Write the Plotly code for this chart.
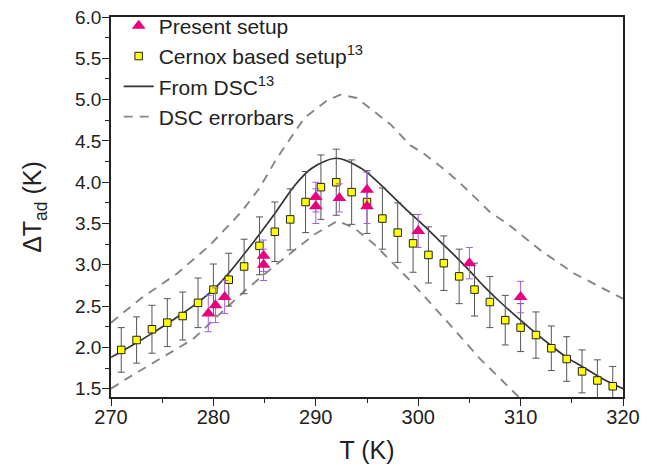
import plotly.graph_objects as go

# Cernox based setup (yellow squares)
cernox_T = [271, 272.5, 274, 275.5, 277, 278.5, 280, 281.5, 283, 284.5, 286, 287.5,
            289, 290.5, 292, 293.5, 295, 296.5, 298, 299.5, 301, 302.5, 304, 305.5,
            307, 308.5, 310, 311.5, 313, 314.5, 316, 317.5, 319]
cernox_dT = [1.97, 2.09, 2.22, 2.30, 2.38, 2.54, 2.70, 2.82, 2.98, 3.23, 3.40, 3.55,
             3.76, 3.94, 4.00, 3.88, 3.76, 3.56, 3.39, 3.26, 3.12, 3.02, 2.86, 2.70,
             2.55, 2.33, 2.24, 2.15, 1.99, 1.86, 1.71, 1.60, 1.53]
cernox_err = [0.27, 0.28, 0.29, 0.29, 0.29, 0.30, 0.31, 0.32, 0.33, 0.35, 0.36, 0.37,
              0.37, 0.39, 0.40, 0.39, 0.38, 0.37, 0.36, 0.35, 0.34, 0.33, 0.33, 0.32,
              0.31, 0.30, 0.29, 0.28, 0.27, 0.27, 0.26, 0.25, 0.24]

# Present setup (magenta triangles)
present_T = [279.5, 280.2, 281.1, 284.9, 284.9, 290.0, 290.0, 292.3, 295.0, 295.0, 300.0, 305.0, 310.0]
present_dT = [2.41, 2.51, 2.61, 3.11, 3.00, 3.82, 3.71, 3.81, 3.91, 3.71, 3.41, 3.02, 2.61]
present_err = [0.22, 0.21, 0.20, 0.19, 0.19, 0.18, 0.21, 0.17, 0.21, 0.21, 0.20, 0.19, 0.19]

# From DSC (solid line)
dsc_T = [270, 272, 274, 276, 278, 280, 281.5, 283, 284.5, 286, 287, 288, 289.5, 291, 292,
         293, 294, 295, 297, 299, 300.5, 302, 303.5, 305, 306.5, 308, 310, 311.5, 313,
         314.5, 316, 318, 320]
dsc_dT = [1.88, 2.02, 2.17, 2.33, 2.50, 2.70, 2.90, 3.13, 3.37, 3.62, 3.80, 3.97, 4.16, 4.26, 4.29,
          4.26, 4.20, 4.12, 3.89, 3.65, 3.48, 3.30, 3.12, 2.93, 2.73, 2.55, 2.33, 2.17, 2.02,
          1.88, 1.77, 1.62, 1.50]

# DSC errorbars (dashed)
upper_T = [270, 273, 276.4, 279.6, 282.8, 284.5, 286.2, 288.9, 291, 292.4, 294, 296, 297.3,
           299.2, 300.5, 302.4, 304, 305.6, 307, 308.8, 312, 315.3, 320]
upper_dT = [2.30, 2.60, 2.89, 3.23, 3.65, 3.93, 4.29, 4.78, 4.98, 5.06, 5.02, 4.82, 4.70,
            4.45, 4.35, 4.17, 4.00, 3.81, 3.64, 3.49, 3.17, 2.89, 2.59]
lower_T = [270, 271.5, 278, 283.1, 286.6, 289.9, 292.1, 293.7, 295.7, 299.2, 302.7, 305.9, 309.5, 312]
lower_dT = [1.50, 1.62, 2.10, 2.69, 3.05, 3.37, 3.53, 3.45, 3.25, 2.81, 2.33, 1.88, 1.44, 1.15]

font = "Liberation Sans, Arial, sans-serif"
ink = "#222222"

fig = go.Figure()

# dashed DSC error envelope
fig.add_trace(go.Scatter(x=lower_T, y=lower_dT, mode="lines", showlegend=False,
                         legendgroup="err", line=dict(color="#858585", width=1.9, dash="9px,7px")))
fig.add_trace(go.Scatter(x=upper_T, y=upper_dT, mode="lines", name="DSC errorbars",
                         legendgroup="err", legendrank=4,
                         line=dict(color="#858585", width=1.9, dash="9px,7px")))
# DSC curve
fig.add_trace(go.Scatter(x=dsc_T, y=dsc_dT, mode="lines", name="From DSC<sup>13</sup>",
                         legendgroup="dsc", legendrank=3,
                         line=dict(color="#333333", width=1.7, shape="spline")))
# Cernox points
fig.add_trace(go.Scatter(x=cernox_T, y=cernox_dT, mode="markers", name="Cernox based setup<sup>13</sup>",
                         legendgroup="cernox", legendrank=2,
                         marker=dict(symbol="square", size=7.5, color="#ffff00",
                                     line=dict(color=ink, width=1)),
                         error_y=dict(type="data", array=cernox_err, color="#555555",
                                      thickness=1, width=3.5)))
# present setup points
fig.add_trace(go.Scatter(x=present_T, y=present_dT, mode="markers", name="Present setup",
                         legendgroup="present", legendrank=1,
                         marker=dict(symbol="triangle-up", size=12, color="#e8007f",
                                     line=dict(width=0)),
                         error_y=dict(type="data", array=present_err, color="#a45ee0",
                                      thickness=1, width=3.5)))

fig.update_xaxes(range=[270, 320], dtick=10, tick0=270, showgrid=False, zeroline=False,
                 showline=True, linecolor=ink, linewidth=1.5, mirror=True, automargin=False,
                 ticks="outside", ticklen=7, tickcolor=ink, ticklabelstandoff=-6,
                 ticklabeloverflow="allow",
                 minor=dict(ticks="outside", ticklen=4, dtick=5, tickcolor=ink),
                 tickfont=dict(size=20, color=ink, family=font),
                 title=dict(text="T (K)", font=dict(size=25, color=ink, family=font), standoff=15))
fig.update_yaxes(range=[1.4, 6.0], dtick=0.5, tick0=1.5, tickformat=".1f", showgrid=False, zeroline=False,
                 showline=True, linecolor=ink, linewidth=1.5, mirror=True, automargin=False,
                 ticks="outside", ticklen=7, tickcolor=ink, ticklabelstandoff=-3,
                 ticklabeloverflow="allow",
                 minor=dict(ticks="outside", ticklen=4, dtick=0.25, tickcolor=ink),
                 tickfont=dict(size=19, color=ink, family=font),
                 title=dict(text="ΔT<sub>ad</sub> (K)", font=dict(size=25, color=ink, family=font), standoff=26))

# the page body adds 8px on every side, so the figure is kept 16px smaller
# than the window (no scrollbars) and the margins are shifted to match
fig.update_layout(
    width=632, height=457,
    margin=dict(l=103, r=17, t=9, b=68, autoexpand=False),
    paper_bgcolor="white", plot_bgcolor="white",
    font=dict(family=font, color=ink),
    legend=dict(x=0.015, y=1.03, xanchor="left", yanchor="top", traceorder="grouped",
                tracegroupgap=0, bgcolor="rgba(0,0,0,0)",
                font=dict(size=21, color=ink, family=font)),
)

fig.write_html("out.html")
